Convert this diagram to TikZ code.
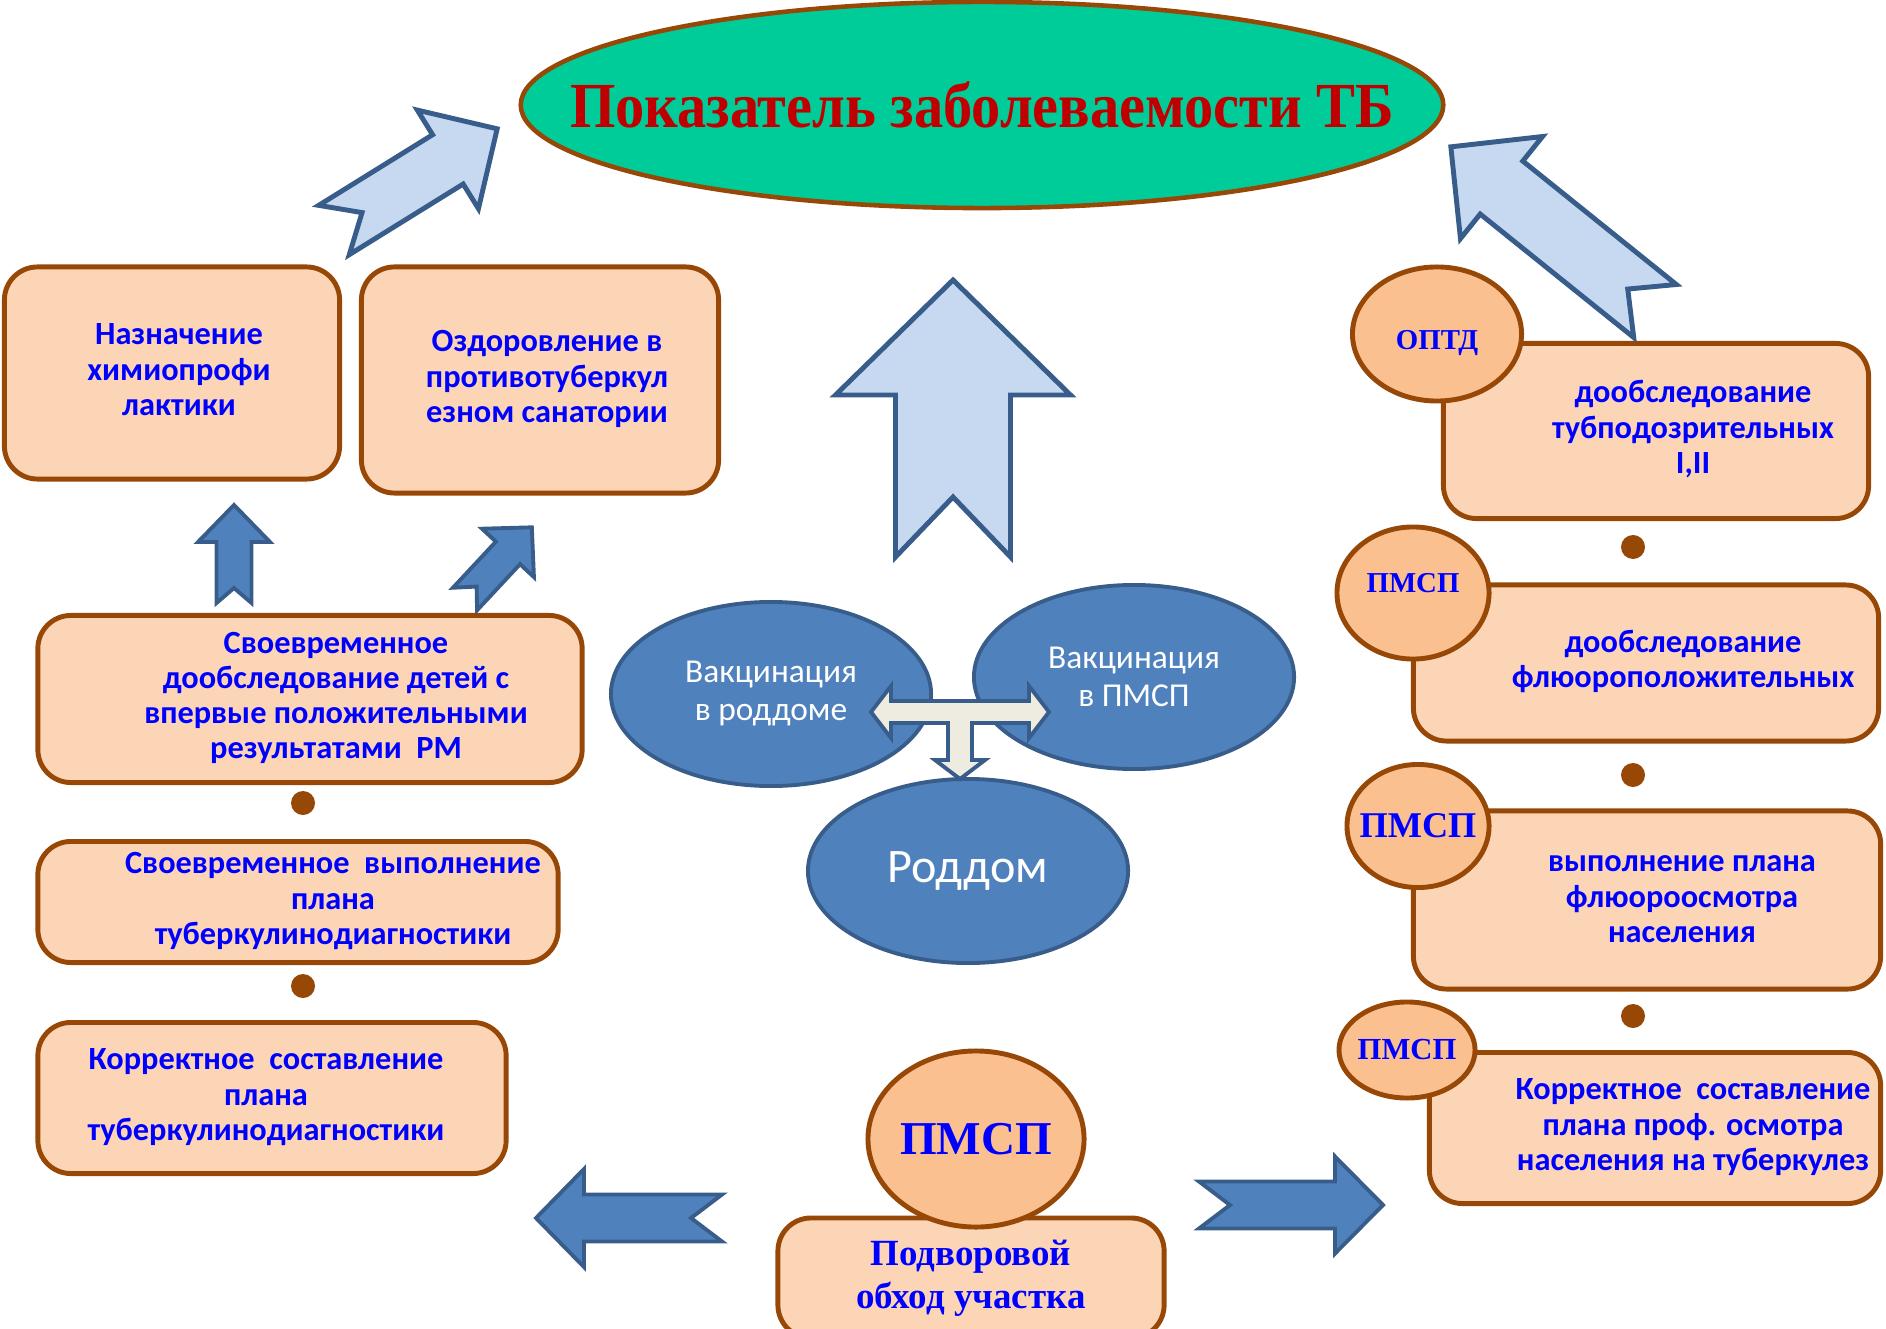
\documentclass[tikz,border=0pt]{standalone}
\usepackage{fontspec}
\setmainfont{Liberation Serif}
\newfontfamily\calibri{Carlito}
\usetikzlibrary{shapes.geometric}

\definecolor{korich}{RGB}{152,72,6}
\definecolor{persik}{RGB}{251,213,181}
\definecolor{persikT}{RGB}{250,192,144}
\definecolor{morsk}{RGB}{0,204,153}
\definecolor{sin}{RGB}{79,129,189}
\definecolor{sinT}{RGB}{56,93,138}
\definecolor{golub}{RGB}{198,217,240}
\definecolor{bezh}{RGB}{238,236,225}
\definecolor{krasn}{RGB}{192,0,0}

% блочная стрелка: стиль, хвост, угол, длина, ширина, ширина головы, длина головы, вырез
\newcommand{\strelka}[8]{%
  \draw[#1,shift={#2},rotate=#3] (0,#5/2) -- (#4-#7,#5/2) -- (#4-#7,#6/2) -- (#4,0)
    -- (#4-#7,-#6/2) -- (#4-#7,-#5/2) -- (0,-#5/2) -- (#8,0) -- cycle;}
% строки текста со сдвигом вправо
\newcommand{\stroki}[2][0pt]{\hspace*{#1}\begin{tabular}{@{}c@{}}#2\end{tabular}}

\begin{document}
\begin{tikzpicture}[x=0.01cm,y=-0.01cm,
    box/.style={draw=korich,fill=persik,line width=1.4pt,rounded corners=0.33cm,
      text=blue,inner sep=0pt,
      font=\calibri\bfseries\fontsize{9.2}{10}\selectfont},
    krug/.style={ellipse,draw=korich,fill=persikT,line width=1.4pt,inner sep=0pt,
      text=blue,font=\bfseries\fontsize{8.2}{10}\selectfont},
    sinij/.style={ellipse,draw=sinT,fill=sin,line width=1.1pt,inner sep=0pt,
      text=white,align=center,font=\calibri\fontsize{9.5}{10.8}\selectfont,
      minimum width=3.2cm,minimum height=1.84cm},
    tochka/.style={circle,fill=korich,minimum size=0.24cm,inner sep=0pt},
    svetl/.style={fill=golub,draw=sinT,line width=1.4pt},
    temn/.style={fill=sin,draw=sinT,line width=1.1pt}]
  \useasboundingbox (0,0) rectangle (1886,1328);

  % Главный показатель
  \node[ellipse,draw=korich,fill=morsk,line width=1.3pt,inner sep=0pt,
    minimum width=9.22cm,minimum height=2.06cm,text=krasn,
    font=\bfseries\fontsize{16.6}{20}\selectfont] (pokaz) at (982,105)
    {\makebox[0pt]{\scalebox{1}[1.1]{Показатель заболеваемости ТБ}}};

  % Левая колонка
  \node[box,minimum width=3.35cm,minimum height=2.12cm] (himio) at (172,373)
    {\stroki[0.14cm]{Назначение\\химиопрофи\\лактики}};
  \node[box,minimum width=3.57cm,minimum height=2.26cm] (ozdor) at (540,380)
    {\stroki[0.14cm]{Оздоровление в\\противотуберкул\\езном санатории}};
  \node[box,minimum width=5.44cm,minimum height=1.67cm] (deti) at (310,699)
    {\stroki[0.52cm]{Своевременное\\дообследование детей с\\впервые положительными\\результатами~~РМ}};
  \node[tochka] (tl1) at (303,803) {};
  \node[box,minimum width=5.20cm,minimum height=1.21cm] (vypoln) at (298,902)
    {\stroki[0.7cm]{Своевременное~~выполнение\\плана\\туберкулинодиагностики}};
  \node[tochka] (tl2) at (303,986) {};
  \node[box,minimum width=4.68cm,minimum height=1.51cm] (sostav) at (272,1098)
    {\stroki[-0.12cm]{Корректное~~составление\\плана\\туберкулинодиагностики}};

  % Правая колонка
  \node[box,minimum width=4.25cm,minimum height=1.75cm] (tubpod) at (1656,431)
    {\stroki[0.74cm]{дообследование\\тубподозрительных\\I,II}};
  \node[krug,minimum width=1.69cm,minimum height=1.34cm] (optd) at (1437,334)
    {\raisebox{-0.09cm}[\height][\depth]{ОПТД}};
  \node[tochka] (tr1) at (1633,547) {};
  \node[box,minimum width=4.65cm,minimum height=1.56cm] (fluoro) at (1646,663)
    {\stroki[0.74cm]{дообследование\\флюороположительных}};
  \node[krug,minimum width=1.52cm,minimum height=1.32cm] (pmsp1) at (1413,593)
    {\raisebox{0.1cm}[\height][\depth]{ПМСП}};
  \node[tochka] (tr2) at (1633,775) {};
  \node[box,minimum width=4.67cm,minimum height=1.78cm] (plan) at (1647,900)
    {\stroki[0.7cm]{выполнение плана\\флюороосмотра\\населения}};
  \node[krug,minimum width=1.42cm,minimum height=1.23cm,
    font=\bfseries\fontsize{10.3}{12}\selectfont] (pmsp2) at (1418,826)
    {\makebox[0pt]{ПМСП}};
  \node[tochka] (tr3) at (1633,1016) {};
  \node[box,minimum width=4.51cm,minimum height=1.51cm] (prof) at (1655,1128)
    {\stroki[0.76cm]{Корректное~~составление\\плана проф. осмотра\\населения на туберкулез}};
  \node[krug,minimum width=1.36cm,minimum height=0.96cm,
    font=\bfseries\fontsize{8.7}{10}\selectfont] (pmsp3) at (1407,1050)
    {\makebox[0pt]{ПМСП}};

  % Низ
  \node[box,minimum width=3.86cm,minimum height=1.20cm,
    font=\bfseries\fontsize{10.5}{12.2}\selectfont] (obhod) at (971,1278)
    {\stroki{Подворовой\\обход участка}};
  \node[krug,minimum width=2.16cm,minimum height=1.76cm,
    font=\bfseries\fontsize{13.4}{16}\selectfont] (pmsp) at (976,1139) {ПМСП};

  % Вакцинация
  \node[sinij] (vrod) at (771,694) {Вакцинация\\в роддоме};
  \node[sinij] (vpmsp) at (1134,677) {Вакцинация\\в ПМСП};
  \node[sinij,font=\calibri\fontsize{13.7}{16}\selectfont] (roddom) at (968,871) {Роддом};
  \draw[fill=bezh,draw=sinT,line width=1.1pt] (871,712) -- (891,686) -- (891,701)
    -- (1029,701) -- (1029,686) -- (1049,712) -- (1029,738) -- (1029,723)
    -- (972,723) -- (972,760) -- (985,760) -- (960,779) -- (935,760) -- (948,760)
    -- (948,723) -- (891,723) -- (891,738) -- cycle;

  % Стрелки
  \strelka{svetl}{(334,230)}{31.8}{192}{58}{116}{58}{33}
  \strelka{svetl}{(1655,311)}{141.2}{262}{68}{131}{65}{35}
  \strelka{svetl}{(953,557)}{90}{277}{115}{235}{115}{60}
  \strelka{temn}{(234,603)}{90}{98}{35}{72}{37}{15}
  \strelka{temn}{(465,599)}{47}{98}{33}{71}{35}{17}
  \strelka{temn}{(722,1218)}{180}{186}{47}{98}{48}{31}
  \strelka{temn}{(1199,1205)}{0}{184}{47}{97}{48}{31}
\end{tikzpicture}
\end{document}
